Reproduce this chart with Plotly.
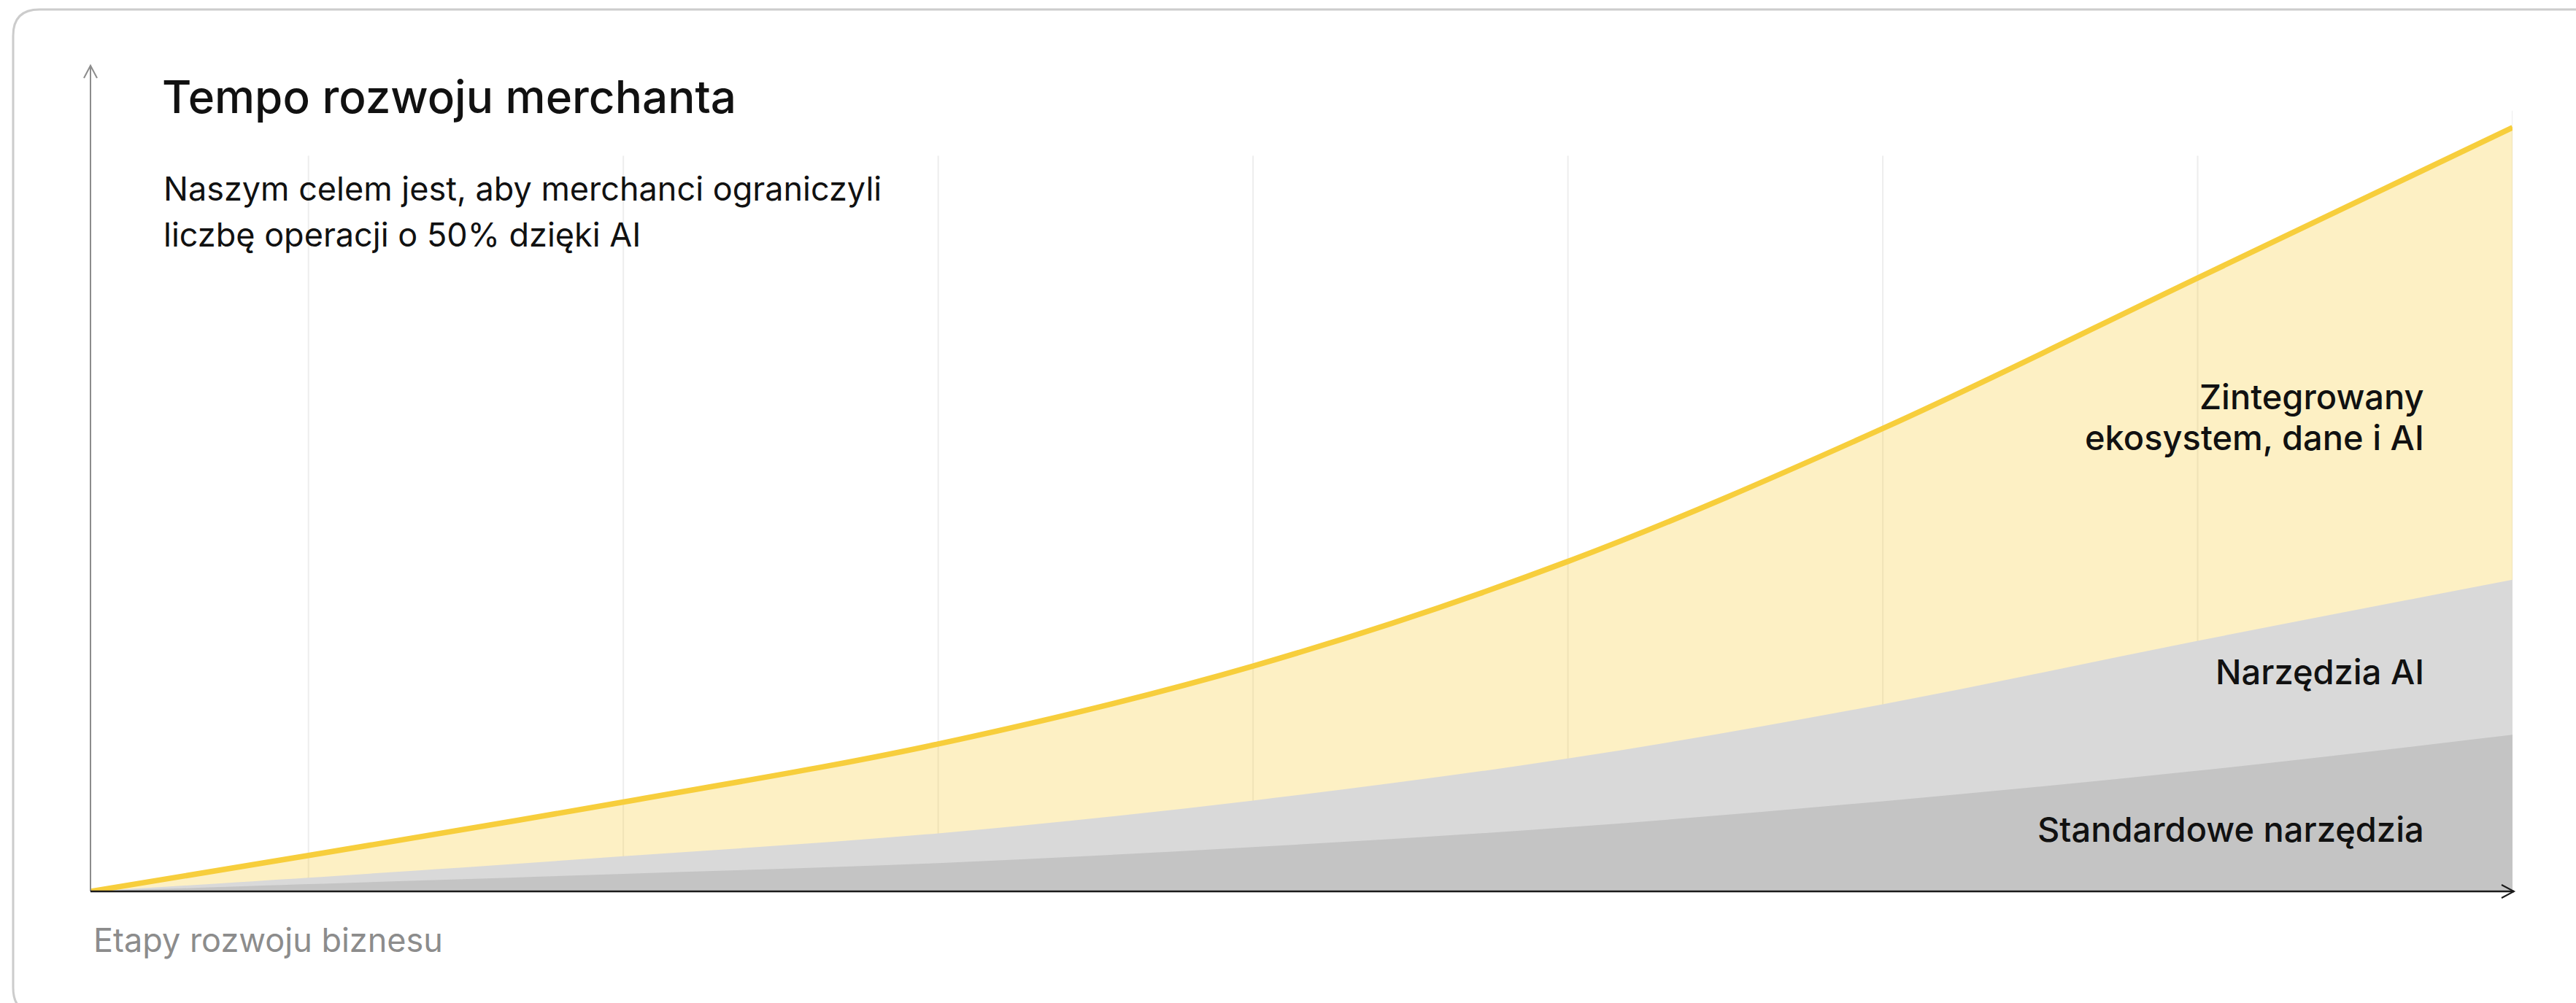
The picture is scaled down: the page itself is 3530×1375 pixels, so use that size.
import plotly.graph_objects as go

# ---- data ----
stage_x = [0, 9, 22, 35, 48, 61, 74, 87, 100]
integrated = [0, 4.7, 11.7, 19.3, 29.5, 43.2, 60.6, 80.3, 100]
ai_tools = [0, 1.8, 4.6, 7.6, 11.9, 17.4, 24.5, 32.8, 40.8]
standard = [0, 0.95, 2.3, 3.7, 5.8, 8.4, 11.8, 15.8, 20.5]
grid_x = [9, 22, 35, 48, 61, 74, 87, 100]

series_names = ["Zintegrowany ekosystem, dane i AI", "Narzędzia AI", "Standardowe narzędzia"]
title_text = "Tempo rozwoju merchanta"
subtitle_lines = ["Naszym celem jest, aby merchanci ograniczyli", "liczbę operacji o 50% dzięki AI"]
label_integrated = ["Zintegrowany", "ekosystem, dane i AI"]
label_ai = "Narzędzia AI"
label_standard = "Standardowe narzędzia"
x_title = "Etapy rozwoju biznesu"

# ---- layout geometry ----
W, H = 3530, 1375
ML, MR, MT, MB = 124, 87, 90, 153
XR = [0, 100]
YR = [0, 108.1]
FONT = "Inter"

def px_x(p):
    return (p - ML) / (W - ML - MR)

def px_y(p):
    return (H - MB - p) / (H - MT - MB)

YELLOW = "#F7CE3C"
YELLOW_FILL = "rgba(247,206,59,0.30)"
GRAY_LIGHT = "#D9D9D9"
GRAY_DARK = "#C4C4C4"
SM = 1.0

fig = go.Figure()
fig.add_trace(go.Scatter(x=stage_x, y=integrated, name=series_names[0], mode="lines",
                         fill="tozeroy", fillcolor=YELLOW_FILL,
                         line=dict(width=0, shape="spline", smoothing=SM, color=YELLOW),
                         hoverinfo="skip"))
fig.add_trace(go.Scatter(x=stage_x, y=ai_tools, name=series_names[1], mode="lines",
                         fill="tozeroy", fillcolor=GRAY_LIGHT,
                         line=dict(width=0, shape="spline", smoothing=SM, color=GRAY_LIGHT),
                         hoverinfo="skip"))
fig.add_trace(go.Scatter(x=stage_x, y=standard, name=series_names[2], mode="lines",
                         fill="tozeroy", fillcolor=GRAY_DARK,
                         line=dict(width=0, shape="spline", smoothing=SM, color=GRAY_DARK),
                         hoverinfo="skip"))
fig.add_trace(go.Scatter(x=stage_x, y=integrated, mode="lines", showlegend=False,
                         line=dict(width=7.5, shape="spline", smoothing=SM, color=YELLOW),
                         hoverinfo="skip"))

shapes = []
# vertical guide lines
for i, gx in enumerate(grid_x):
    top = 102.2 if i == len(grid_x) - 1 else 96.3
    shapes.append(dict(type="line", xref="x", yref="y", x0=gx, x1=gx, y0=0, y1=top,
                       line=dict(color="#EDEDED", width=2), layer="below"))

# card border (rounded, open to the right)
L0, T0, B0, R0, rad = 18, 13, 1390, 3600, 36
card = (f"M {px_x(R0)} {px_y(T0)} L {px_x(L0 + rad)} {px_y(T0)} "
        f"Q {px_x(L0)} {px_y(T0)} {px_x(L0)} {px_y(T0 + rad)} "
        f"L {px_x(L0)} {px_y(B0 - rad)} "
        f"Q {px_x(L0)} {px_y(B0)} {px_x(L0 + rad)} {px_y(B0)} "
        f"L {px_x(R0)} {px_y(B0)}")
shapes.append(dict(type="path", xref="paper", yref="paper", path=card,
                   line=dict(color="#CCCCCC", width=3)))

# y axis with open arrow
ax_x, base_y = 124, 1222
shapes.append(dict(type="line", xref="paper", yref="paper", x0=px_x(ax_x), x1=px_x(ax_x),
                   y0=px_y(base_y), y1=px_y(90), line=dict(color="#8C8C8C", width=2)))
shapes.append(dict(type="path", xref="paper", yref="paper",
                   path=f"M {px_x(ax_x - 9)} {px_y(107)} L {px_x(ax_x)} {px_y(90)} L {px_x(ax_x + 9)} {px_y(107)}",
                   line=dict(color="#8C8C8C", width=2)))
# x axis with open arrow
end_x = 3445
shapes.append(dict(type="line", xref="paper", yref="paper", x0=px_x(ax_x), x1=px_x(end_x),
                   y0=px_y(base_y), y1=px_y(base_y), line=dict(color="#1A1A1A", width=2.5)))
shapes.append(dict(type="path", xref="paper", yref="paper",
                   path=f"M {px_x(end_x - 17)} {px_y(base_y - 9)} L {px_x(end_x)} {px_y(base_y)} L {px_x(end_x - 17)} {px_y(base_y + 9)}",
                   line=dict(color="#1A1A1A", width=2)))

annotations = []
def txt(text, x, y, size, color="#111111", weight=400, xanchor="left"):
    annotations.append(dict(text=text, x=px_x(x), y=px_y(y), xref="paper", yref="paper",
                            xanchor=xanchor, yanchor="middle", showarrow=False,
                            font=dict(family=FONT, size=size, color=color, weight=weight)))

txt(title_text, 220, 132, 62, weight=500)
txt(subtitle_lines[0], 222, 258, 45)
txt(subtitle_lines[1], 222, 321, 45)
txt(label_integrated[0], 3324, 543, 47, weight=500, xanchor="right")
txt(label_integrated[1], 3324, 599, 47, weight=500, xanchor="right")
txt(label_ai, 3324, 920, 47, weight=500, xanchor="right")
txt(label_standard, 3324, 1136, 47, weight=500, xanchor="right")
txt(x_title, 126, 1288, 45, color="#8C8C8C")

fig.update_layout(
    width=W, height=H,
    margin=dict(l=ML, r=MR, t=MT, b=MB, autoexpand=False),
    paper_bgcolor="white", plot_bgcolor="rgba(0,0,0,0)",
    showlegend=False,
    xaxis=dict(range=XR, visible=False, fixedrange=True),
    yaxis=dict(range=YR, visible=False, fixedrange=True),
    shapes=shapes, annotations=annotations,
    font=dict(family=FONT),
)

fig.write_html("out.html", config={"displayModeBar": False},
               post_script="document.body.style.margin='0px';")
